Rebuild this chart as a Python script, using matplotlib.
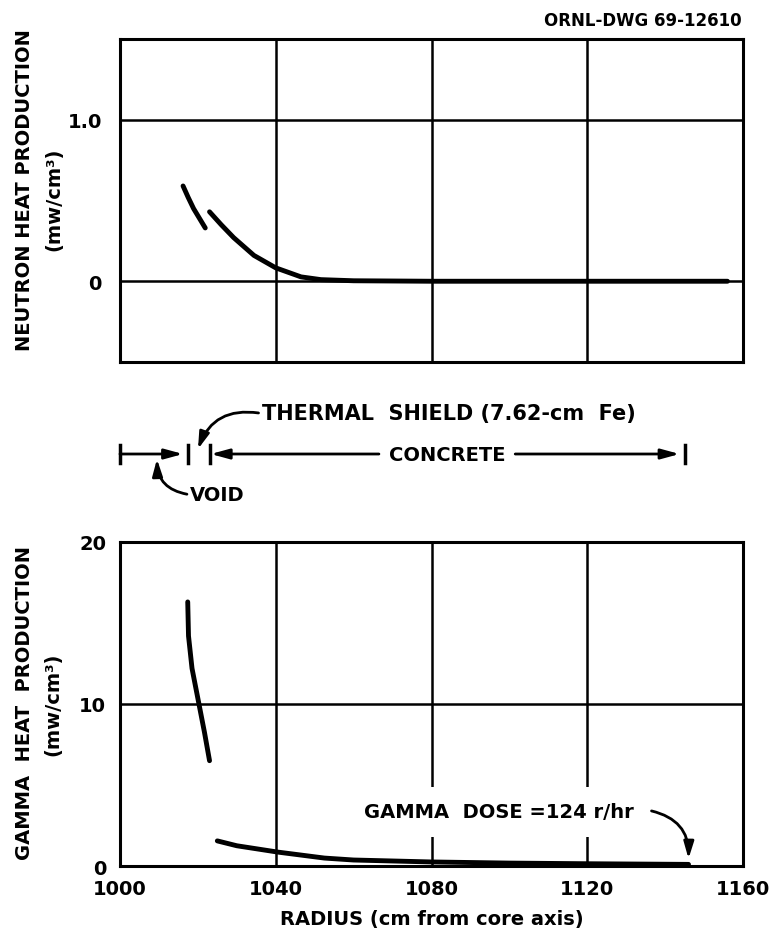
import matplotlib
matplotlib.use("Agg")
from matplotlib import pyplot as plt
from matplotlib import transforms

# radius grid (cm from core axis)
radius_ticks = [1000, 1040, 1080, 1120, 1160]

# neutron heat production (mw/cm^3), thermal shield piece and concrete piece
neutron_r1 = [1016.2, 1017.5, 1018.9, 1020.4, 1021.9]
neutron_h1 = [0.59, 0.52, 0.45, 0.39, 0.33]
neutron_r2 = [1023.0, 1026.0, 1029.2, 1034.4, 1040.0, 1046.5, 1051.6, 1060.0, 1080.0, 1120.0, 1156.0]
neutron_h2 = [0.43, 0.35, 0.27, 0.16, 0.083, 0.027, 0.01, 0.003, 0.0, 0.0, 0.0]
neutron_ticks = [0, 1.0]
neutron_labels = ["0", "1.0"]

# gamma heat production (mw/cm^3)
gamma_r1 = [1017.4, 1017.6, 1018.5, 1020.2, 1021.7, 1023.0]
gamma_h1 = [16.3, 14.2, 12.2, 10.1, 8.25, 6.5]
gamma_r2 = [1025.0, 1030.0, 1040.5, 1052.5, 1060.0, 1080.0, 1100.0, 1120.0, 1146.0]
gamma_h2 = [1.55, 1.25, 0.86, 0.49, 0.37, 0.25, 0.18, 0.14, 0.1]
gamma_ticks = [0, 10, 20]

# region boundaries (cm)
void_r = [1000.0, 1017.4]
concrete_r = [1023.0, 1145.0]

plt.rcParams["font.family"] = "DejaVu Sans"
plt.rcParams["font.weight"] = "bold"
plt.rcParams["axes.labelweight"] = "bold"

fig = plt.figure(figsize=(7.74, 9.37), dpi=100)
ax_top = fig.add_axes([0.155, 0.6126, 0.805, 0.3447])
ax_bot = fig.add_axes([0.155, 0.0747, 0.805, 0.3458])

for ax in (ax_top, ax_bot):
    ax.set_xlim(1000, 1160)
    ax.set_xticks(radius_ticks)
    ax.grid(True, color="k", lw=1.8)
    ax.set_axisbelow(True)
    for s in ax.spines.values():
        s.set_linewidth(2.2)
    ax.tick_params(length=0, labelsize=14, pad=10)

ax_top.set_ylim(-0.5, 1.5)
ax_top.set_yticks(neutron_ticks)
ax_top.set_yticklabels(neutron_labels)
ax_top.tick_params(axis="y", pad=13)
ax_top.set_xticklabels([])
ax_top.plot(neutron_r1, neutron_h1, color="k", lw=3.5, solid_capstyle="round")
ax_top.plot(neutron_r2, neutron_h2, color="k", lw=3.5, solid_capstyle="round")

ax_bot.set_ylim(0, 20)
ax_bot.set_yticks(gamma_ticks)
ax_bot.set_xticklabels([str(t) for t in radius_ticks])
ax_bot.tick_params(axis="x", pad=9)
ax_bot.plot(gamma_r1, gamma_h1, color="k", lw=3.5, solid_capstyle="round")
ax_bot.plot(gamma_r2, gamma_h2, color="k", lw=3.5, solid_capstyle="round")
ax_bot.set_xlabel("RADIUS (cm from core axis)", fontsize=14, labelpad=8)

# y labels
fig.text(0.032, 0.797, "NEUTRON HEAT PRODUCTION", rotation=90, ha="center", va="center", fontsize=14)
fig.text(0.070, 0.787, "(mw/cm³)", rotation=90, ha="center", va="center", fontsize=14)
fig.text(0.032, 0.250, "GAMMA  HEAT  PRODUCTION", rotation=90, ha="center", va="center", fontsize=14)
fig.text(0.068, 0.248, "(mw/cm³)", rotation=90, ha="center", va="center", fontsize=14)

fig.text(0.9587, 0.9776, "ORNL-DWG 69-12610", ha="right", va="center", fontsize=12)

# layout sketch between panels
bt = transforms.blended_transform_factory(ax_bot.transData, fig.transFigure)
yb = 0.5144
dy = 0.0096
arrow = dict(arrowstyle="-|>,head_length=1.1,head_width=0.3", color="k", lw=2,
             shrinkA=0, shrinkB=0)
for x in [void_r[0], void_r[1], concrete_r[0], concrete_r[1]]:
    ax_bot.plot([x, x], [yb - dy, yb + dy], transform=bt, clip_on=False, color="k", lw=2.5)
ax_bot.annotate("", xy=(void_r[1] - 1.2, yb), xycoords=bt, xytext=(void_r[0], yb),
                textcoords=bt, arrowprops=arrow, annotation_clip=False)
mid = (concrete_r[0] + concrete_r[1]) / 2
ax_bot.annotate("", xy=(concrete_r[0] + 0.3, yb), xycoords=bt, xytext=(mid - 17.5, yb),
                textcoords=bt, arrowprops=arrow, annotation_clip=False)
ax_bot.annotate("", xy=(concrete_r[1] - 1.3, yb), xycoords=bt, xytext=(mid + 17.5, yb),
                textcoords=bt, arrowprops=arrow, annotation_clip=False)
ax_bot.text(mid, yb, "CONCRETE", transform=bt, ha="center", va="center", fontsize=14)

fig.text(0.3385, 0.558, "THERMAL  SHIELD (7.62-cm  Fe)", ha="left", va="center", fontsize=15)
ax_bot.annotate("", xy=(0.2558, 0.5197), xycoords="figure fraction",
                xytext=(0.334, 0.5582), textcoords="figure fraction",
                arrowprops=dict(arrowstyle="-|>,head_length=1.0,head_width=0.3", color="k", lw=2,
                                shrinkA=0, shrinkB=0, connectionstyle="arc3,rad=0.4"),
                annotation_clip=False)

fig.text(0.2455, 0.4707, "VOID", ha="left", va="center", fontsize=14)
ax_bot.annotate("", xy=(0.2028, 0.5090), xycoords="figure fraction",
                xytext=(0.2415, 0.4715), textcoords="figure fraction",
                arrowprops=dict(arrowstyle="-|>,head_length=1.0,head_width=0.3", color="k", lw=2,
                                shrinkA=0, shrinkB=0, connectionstyle="arc3,rad=-0.4"),
                annotation_clip=False)

# gamma dose note
ax_bot.text(1097.3, 3.35, "GAMMA  DOSE =124 r/hr", ha="center", va="center", fontsize=14,
            zorder=5, bbox=dict(boxstyle="square,pad=0.8", fc="white", ec="none"))
ax_bot.annotate("", xy=(1146, 0.45), xytext=(1136.5, 3.4),
                arrowprops=dict(arrowstyle="-|>,head_length=1.0,head_width=0.3", color="k", lw=2,
                                shrinkA=0, shrinkB=0, connectionstyle="arc3,rad=-0.4"),
                zorder=6)

fig.savefig("out.png", dpi=100)
